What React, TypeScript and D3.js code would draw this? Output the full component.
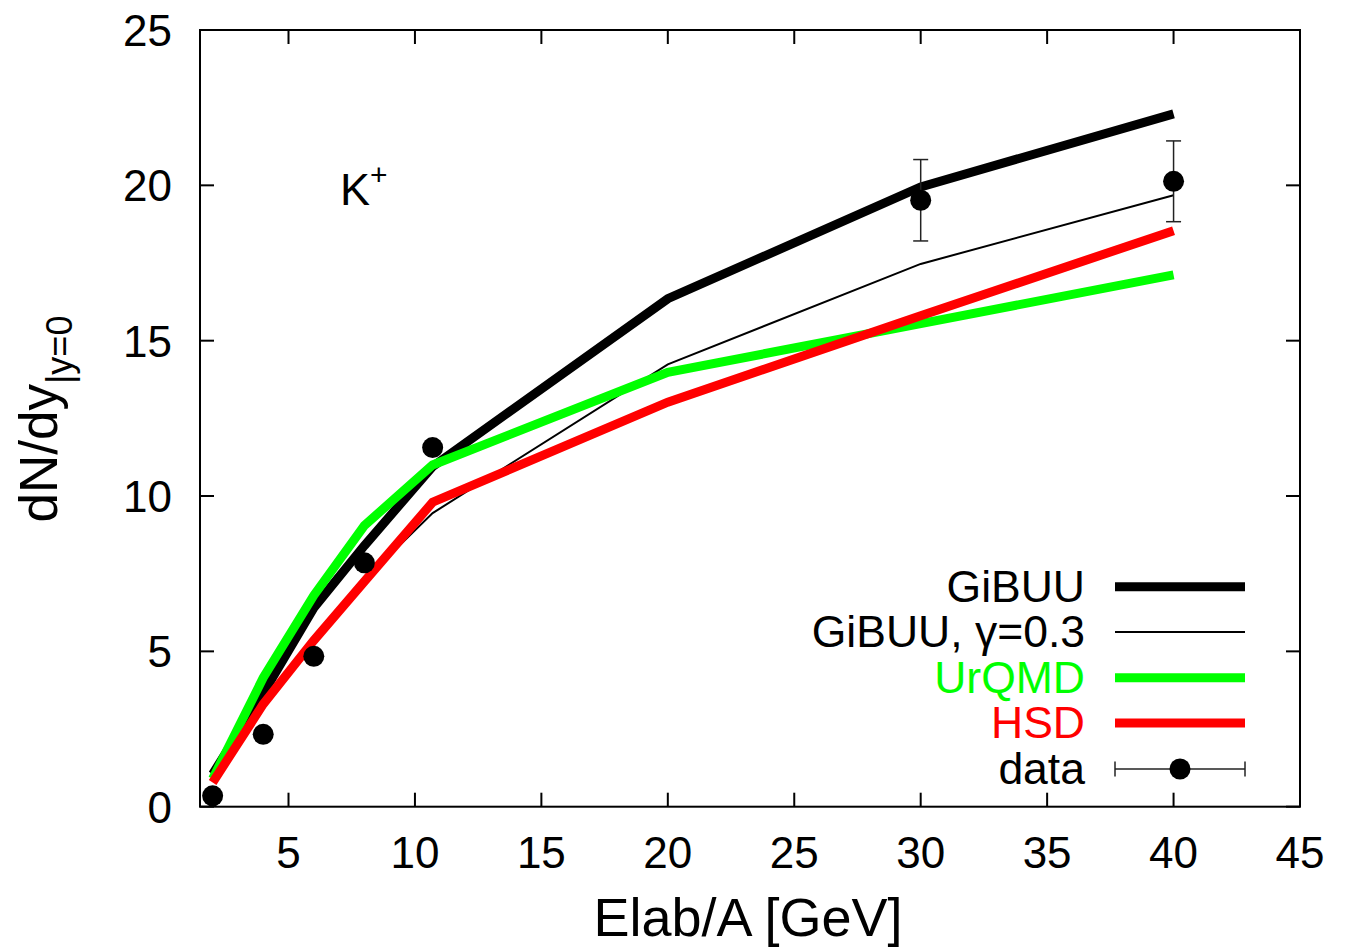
import React from "react";
import * as d3 from "d3";

const modelE = [2, 4, 6, 8, 10.7, 20, 30, 40];
const gibuu = [1.05, 3.65, 6.4, 8.4, 10.95, 16.35, 19.95, 22.3];
const gibuuGamma = [1.1, 3.3, 5.4, 7.3, 9.45, 14.24, 17.47, 19.68];
const urqmd = [0.9, 4.15, 6.8, 9.05, 11.0, 13.98, 15.55, 17.12];
const hsd = [0.78, 3.3, 5.35, 7.25, 9.8, 13.02, 15.8, 18.54];

const dataE = [2, 4, 6, 8, 10.7, 30, 40];
const dataY = [0.35, 2.33, 4.84, 7.85, 11.56, 19.52, 20.13];
const dataErr = [0, 0, 0, 0, 0, 1.31, 1.3];

const xTicks = [5, 10, 15, 20, 25, 30, 35, 40, 45];
const yTicks = [0, 5, 10, 15, 20, 25];

const seriesNames = ["GiBUU", "GiBUU, \u03b3=0.3", "UrQMD", "HSD"];
const seriesColors = ["#000000", "#000000", "#00ff00", "#ff0000"];
const seriesWidths = [9, 2, 9, 9];
const seriesValues = [gibuu, gibuuGamma, urqmd, hsd];

const FONT = "Arial, 'Liberation Sans', Helvetica, sans-serif";

export default function App() {
  const left = 200, right = 1300, top = 30, bottom = 806.7;
  const x = d3.scaleLinear().domain([1.5, 45]).range([left, right]);
  const y = d3.scaleLinear().domain([0, 25]).range([bottom, top]);
  const line = d3.line<number>().x((_, i) => x(modelE[i])).y((v) => y(v));
  const tick = 14;

  const legX0 = 1115, legX1 = 1245, legText = 1085;
  const legRows = [586.7, 632, 677.7, 723, 769];

  return (
    <svg width={1347} height={948} style={{ position: "absolute", left: 0, top: 0, background: "#fff" }} fontFamily={FONT}>
      <rect x={0} y={0} width={1347} height={948} fill="#fff" />
      {/* ticks */}
      {xTicks.map((t) => (
        <g key={"xt" + t}>
          <line x1={x(t)} x2={x(t)} y1={bottom} y2={bottom - tick} stroke="#000" strokeWidth={2} />
          <line x1={x(t)} x2={x(t)} y1={top} y2={top + tick} stroke="#000" strokeWidth={2} />
          <text x={x(t)} y={868} fontSize={44} textAnchor="middle" fill="#000">{t}</text>
        </g>
      ))}
      {yTicks.map((t) => (
        <g key={"yt" + t}>
          <line x1={left} x2={left + tick} y1={y(t)} y2={y(t)} stroke="#000" strokeWidth={2} />
          <line x1={right} x2={right - tick} y1={y(t)} y2={y(t)} stroke="#000" strokeWidth={2} />
          <text x={172} y={y(t)} dy="0.36em" fontSize={44} textAnchor="end" fill="#000">{t}</text>
        </g>
      ))}
      {/* series */}
      {seriesValues.map((vals, i) => (
        <path key={"s" + i} d={line(vals) || ""} fill="none" stroke={seriesColors[i]} strokeWidth={seriesWidths[i]} strokeLinejoin="miter" strokeLinecap="butt" />
      ))}
      {/* data */}
      {dataE.map((e, i) => (
        <g key={"d" + i}>
          {dataErr[i] > 0 && (
            <g stroke="#222" strokeWidth={1.5}>
              <line x1={x(e)} x2={x(e)} y1={y(dataY[i] - dataErr[i])} y2={y(dataY[i] + dataErr[i])} />
              <line x1={x(e) - 7.5} x2={x(e) + 7.5} y1={y(dataY[i] - dataErr[i])} y2={y(dataY[i] - dataErr[i])} />
              <line x1={x(e) - 7.5} x2={x(e) + 7.5} y1={y(dataY[i] + dataErr[i])} y2={y(dataY[i] + dataErr[i])} />
            </g>
          )}
          <circle cx={x(e)} cy={y(dataY[i])} r={10.5} fill="#000" />
        </g>
      ))}
      {/* frame */}
      <rect x={left} y={top} width={right - left} height={bottom - top} fill="none" stroke="#000" strokeWidth={2} />
      {/* legend */}
      {seriesNames.map((n, i) => (
        <g key={"l" + i}>
          <text x={legText} y={legRows[i] + 15} fontSize={44.5} textAnchor="end" fill={i >= 2 ? seriesColors[i] : "#000"}>{n}</text>
          <line x1={legX0} x2={legX1} y1={legRows[i]} y2={legRows[i]} stroke={seriesColors[i]} strokeWidth={seriesWidths[i]} />
        </g>
      ))}
      <g>
        <text x={legText} y={legRows[4] + 15} fontSize={44.5} textAnchor="end" fill="#000">data</text>
        <g stroke="#222" strokeWidth={1.5}>
          <line x1={legX0} x2={legX1} y1={legRows[4]} y2={legRows[4]} />
          <line x1={legX0} x2={legX0} y1={legRows[4] - 7.5} y2={legRows[4] + 7.5} />
          <line x1={legX1} x2={legX1} y1={legRows[4] - 7.5} y2={legRows[4] + 7.5} />
        </g>
        <circle cx={(legX0 + legX1) / 2} cy={legRows[4]} r={10.5} fill="#000" />
      </g>
      {/* K+ label */}
      <text x={340} y={205} fontSize={45} fill="#000">K<tspan fontSize={30} dy={-20}>+</tspan></text>
      {/* axis titles */}
      <text x={748} y={936} fontSize={54} textAnchor="middle" fill="#000">Elab/A [GeV]</text>
      <text transform="translate(57,419) rotate(-90)" fontSize={53} textAnchor="middle" fill="#000">
        dN/dy<tspan fontSize={36} dy={15}>|y=0</tspan>
      </text>
    </svg>
  );
}
